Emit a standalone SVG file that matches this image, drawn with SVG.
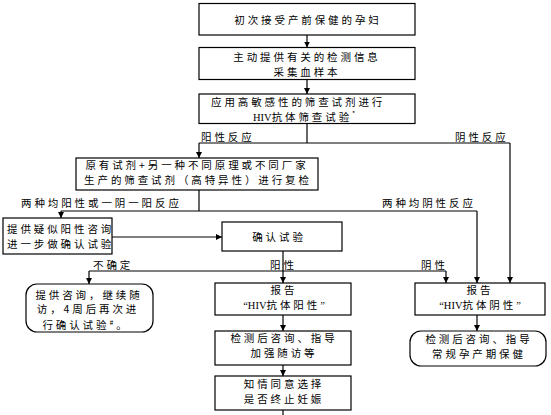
<svg xmlns="http://www.w3.org/2000/svg" width="551" height="415" viewBox="0 0 551 415">
<defs>
<marker id="ah" viewBox="0 0 8 8" refX="8" refY="4" markerWidth="6" markerHeight="6" markerUnits="userSpaceOnUse" orient="auto">
<path d="M0,0 L8,4 L0,8 Z" fill="#000"/>
</marker>
<style>
.box{fill:#fff;stroke:#000;stroke-width:1.2}
.t{font-family:"Noto Sans CJK SC","Noto Sans CJK JP",sans-serif;font-size:10.5px;letter-spacing:2.9px;fill:#000}
.m{text-anchor:middle}
.s{font-family:"Liberation Serif",serif;letter-spacing:0}
.ln{fill:none;stroke:#000;stroke-width:1.2}
.ar{fill:none;stroke:#000;stroke-width:1.2;marker-end:url(#ah)}
</style>
</defs>
<rect width="551" height="415" fill="#fff"/>

<g id="connectors">
<path class="ar" d="M307,35 V47.5"/>
<path class="ar" d="M307,79.5 V94"/>
<path class="ln" d="M307,123.5 V143"/>
<path class="ln" d="M199,143 H510"/>
<path class="ar" d="M199,143 V158"/>
<path class="ar" d="M510,143 V283"/>
<path class="ln" d="M199,190 V211"/>
<path class="ln" d="M61,211 H477"/>
<path class="ar" d="M61,211 V218"/>
<path class="ar" d="M477,211 V283"/>
<path class="ar" d="M112,237 H222"/>
<path class="ar" d="M283,251 V283"/>
<path class="ln" d="M89,271 H446"/>
<path class="ar" d="M89,271 V284"/>
<path class="ar" d="M446,271 V283"/>
<path class="ar" d="M283,315 V331"/>
<path class="ar" d="M283,365 V376"/>
<path class="ln" d="M283,410 V415"/>
<path class="ar" d="M477,315 V331"/>
<text class="t" x="201" y="140.5">阳性反应</text>
<text class="t" x="455" y="140.5">阴性反应</text>
<text class="t" x="21" y="207">两种均阳性或一阴一阳反应</text>
<text class="t" x="382" y="207">两种均阴性反应</text>
<text class="t" x="93" y="268.5">不确定</text>
<text class="t" x="270" y="268.5">阳性</text>
<text class="t" x="421" y="268.5">阴性</text>
</g>

<g id="n1">
<rect class="box" x="199" y="3.5" width="216" height="31.5"/>
<text class="t m" x="308" y="23.5">初次接受产前保健的孕妇</text>
</g>
<g id="n2">
<rect class="box" x="199" y="47.5" width="216" height="32"/>
<text class="t m" x="307" y="61">主动提供有关的检测信息</text>
<text class="t m" x="307" y="75.5">采集血样本</text>
</g>
<g id="n3">
<rect class="box" x="199" y="94" width="216" height="29.5"/>
<text class="t" x="211" y="106">应用高敏感性的筛查试剂进行</text>
<text class="t" x="253" y="121"><tspan class="s">HIV</tspan>抗体筛查试验<tspan font-size="7" dy="-5">*</tspan></text>
</g>
<g id="n4">
<rect class="box" x="76" y="158" width="242" height="32"/>
<text class="t m" x="197" y="169">原有试剂+另一种不同原理或不同厂家</text>
<text class="t m" x="198" y="184">生产的筛查试剂（高特异性）进行复检</text>
</g>
<g id="n5">
<rect class="box" x="3" y="218" width="109" height="36"/>
<text class="t" x="7" y="233">提供疑似阳性咨询</text>
<text class="t" x="7" y="248">进一步做确认试验</text>
</g>
<g id="n6">
<rect class="box" x="222" y="222" width="120" height="29"/>
<text class="t m" x="279" y="241">确认试验</text>
</g>
<g id="n7">
<rect class="box" x="26" y="284" width="127" height="48" rx="11"/>
<text class="t m" x="89" y="299">提供咨询，继续随</text>
<text class="t m" x="88" y="313">访，4周后再次进</text>
<text class="t m" x="86" y="328.5">行确认试验<tspan font-size="7" dy="-3.5">#</tspan><tspan dy="3.5">。</tspan></text>
</g>
<g id="n8">
<rect class="box" x="215" y="283" width="136" height="32"/>
<text class="t m" x="284" y="294">报告</text>
<text class="t m" x="284" y="309"><tspan class="s">“HIV</tspan>抗体阳性<tspan class="s">”</tspan></text>
</g>
<g id="n9">
<rect class="box" x="215" y="331" width="136" height="34"/>
<text class="t m" x="284" y="342">检测后咨询、指导</text>
<text class="t m" x="284" y="357">加强随访等</text>
</g>
<g id="n10">
<rect class="box" x="215" y="376" width="136" height="34"/>
<text class="t m" x="284" y="388">知情同意选择</text>
<text class="t m" x="284" y="403">是否终止妊娠</text>
</g>
<g id="n11">
<rect class="box" x="415" y="283" width="130" height="32"/>
<text class="t m" x="480" y="294">报告</text>
<text class="t m" x="480" y="309"><tspan class="s">“HIV</tspan>抗体阴性<tspan class="s">”</tspan></text>
</g>
<g id="n12">
<rect class="box" x="410" y="331" width="136" height="35" rx="11"/>
<text class="t m" x="479" y="343">检测后咨询、指导</text>
<text class="t m" x="479" y="358">常规孕产期保健</text>
</g>
</svg>
